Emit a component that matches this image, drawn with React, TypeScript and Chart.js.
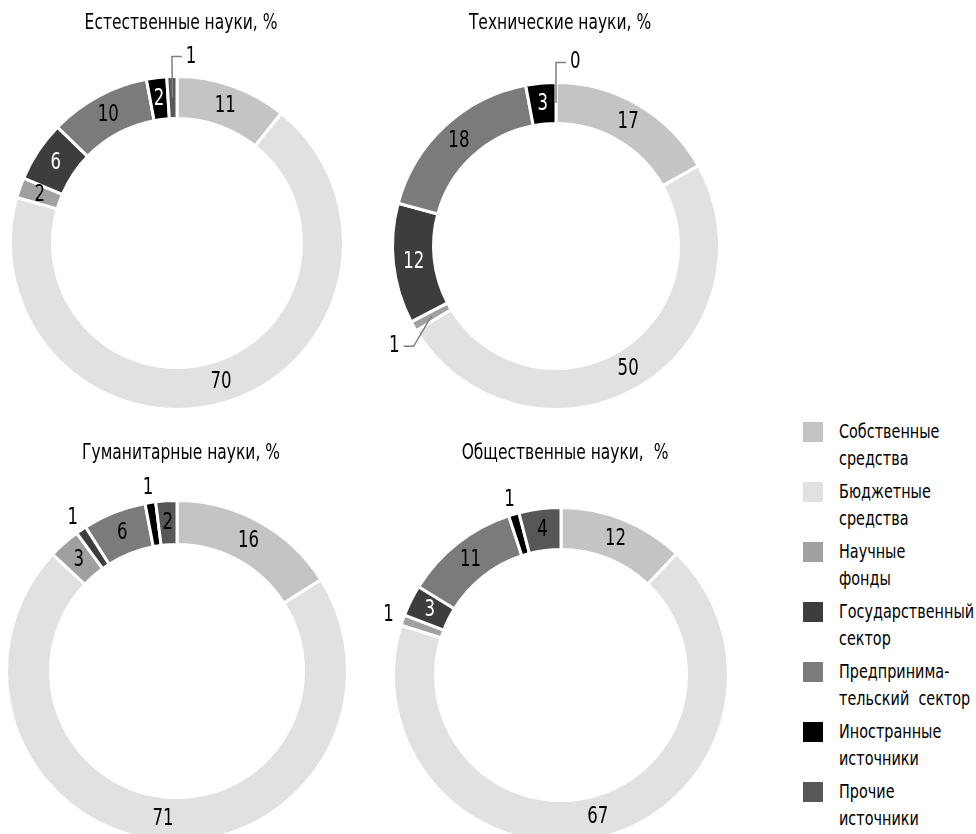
import React, { useEffect, useRef } from "react";
import { Chart, registerables } from "chart.js";

Chart.register(...registerables);

// ---------- data ----------
const categories = [
  "Собственные средства",
  "Бюджетные средства",
  "Научные фонды",
  "Государственный сектор",
  "Предпринимательский сектор",
  "Иностранные источники",
  "Прочие источники",
];
const legendLines = [
  ["Собственные", "средства"],
  ["Бюджетные", "средства"],
  ["Научные", "фонды"],
  ["Государственный", "сектор"],
  ["Предпринима-", "тельский  сектор"],
  ["Иностранные", "источники"],
  ["Прочие", "источники"],
];
const naturalSciences = [11, 70, 2, 6, 10, 2, 1];
const technicalSciences = [17, 50, 1, 12, 18, 3, 0];
const humanities = [16, 71, 3, 1, 6, 1, 2];
const socialSciences = [12, 67, 1, 3, 11, 1, 4];
const titles = [
  "Естественные науки, %",
  "Технические науки, %",
  "Гуманитарные науки, %",
  "Общественные науки,  %",
];

// ---------- styles ----------
const colors = ["#c4c4c4", "#e1e1e1", "#a0a0a0", "#3d3d3d", "#7b7b7b", "#000000", "#575757"];
const labelColors = ["#000", "#000", "#000", "#fff", "#000", "#fff", "#000"];
const FONT = "'DejaVu Sans Condensed', 'Liberation Sans Narrow', sans-serif";
const PAD = 50;
const LABEL_SIZE = 23;
const LABEL_SCALE = 0.8;

const panels = [
  { data: naturalSciences, title: titles[0], cx: 177, cy: 243, r: 165, inner: 126, small: "leader", tx: 181, ty: 22 },
  { data: technicalSciences, title: titles[1], cx: 556, cy: 246, r: 162, inner: 124, small: "leader", tx: 560, ty: 22 },
  { data: humanities, title: titles[2], cx: 177, cy: 671, r: 169, inner: 128, small: "outside", tx: 181, ty: 452 },
  { data: socialSciences, title: titles[3], cx: 561, cy: 675, r: 166, inner: 127, small: "outside", tx: 565, ty: 452 },
];

function drawText(ctx: CanvasRenderingContext2D, text: string, x: number, y: number) {
  ctx.save();
  ctx.translate(x, y);
  ctx.scale(LABEL_SCALE, 1);
  ctx.fillText(text, 0, 0);
  ctx.restore();
}

const labelPlugin = {
  id: "arcLabels",
  afterDatasetsDraw(chart: any) {
    const ctx = chart.ctx;
    const mode = chart.options.plugins.arcLabels.small;
    const meta = chart.getDatasetMeta(0);
    const values = chart.data.datasets[0].data;
    ctx.save();
    ctx.font = `${LABEL_SIZE}px ${FONT}`;
    ctx.textBaseline = "middle";
    meta.data.forEach((arc: any, i: number) => {
      const v = values[i];
      const { x, y, startAngle, endAngle, innerRadius, outerRadius } = arc.getProps(
        ["x", "y", "startAngle", "endAngle", "innerRadius", "outerRadius"],
        true
      );
      const mid = (startAngle + endAngle) / 2;
      const c = Math.cos(mid);
      const s = Math.sin(mid);
      const text = String(v);
      if (v >= 2) {
        const rm = (innerRadius + outerRadius) / 2;
        ctx.fillStyle = labelColors[i];
        ctx.textAlign = "center";
        drawText(ctx, text, x + c * rm, y + s * rm);
      } else if (mode === "leader") {
        const rm = (innerRadius + outerRadius) / 2;
        const sx = x + c * rm;
        const sy = y + s * rm;
        const ox = x + c * outerRadius;
        const oy = y + s * outerRadius;
        const vdir = oy - sy >= 0 ? 1 : -1;
        const ex = ox;
        const ey = sy + vdir * (Math.abs(oy - sy) + 20);
        const hdir = c < -0.1 ? -1 : 1;
        const hx = ex + hdir * 10;
        ctx.strokeStyle = "#808080";
        ctx.lineWidth = 1.5;
        ctx.beginPath();
        ctx.moveTo(sx, sy);
        ctx.lineTo(ex, ey);
        ctx.lineTo(hx, ey);
        ctx.stroke();
        ctx.fillStyle = "#000";
        ctx.textAlign = hdir > 0 ? "left" : "right";
        drawText(ctx, text, hx + hdir * 4, ey);
      } else {
        const ro = outerRadius + 15;
        ctx.fillStyle = "#000";
        ctx.textAlign = "center";
        drawText(ctx, text, x + c * ro, y + s * ro);
      }
    });
    ctx.restore();
  },
};

function Donut({ panel }: { panel: any }) {
  const ref = useRef<HTMLCanvasElement>(null);
  useEffect(() => {
    if (!ref.current) return;
    const bw = 3;
    const R = panel.r + bw / 2;
    const inner = panel.inner - bw / 2;
    const chart = new Chart(ref.current, {
      type: "doughnut",
      data: {
        labels: categories,
        datasets: [
          {
            data: panel.data,
            backgroundColor: colors,
            borderColor: "#ffffff",
            borderWidth: bw,
          },
        ],
      },
      options: {
        animation: false,
        responsive: false,
        events: [],
        radius: R,
        cutout: `${(inner / R) * 100}%`,
        layout: { padding: 0 },
        plugins: {
          legend: { display: false },
          tooltip: { enabled: false },
          arcLabels: { small: panel.small },
        } as any,
      } as any,
      plugins: [labelPlugin],
    });
    return () => chart.destroy();
  }, [panel]);
  const size = 2 * (panel.r + PAD);
  return (
    <canvas
      ref={ref}
      width={size}
      height={size}
      style={{
        position: "absolute",
        left: panel.cx - panel.r - PAD,
        top: panel.cy - panel.r - PAD,
        width: size,
        height: size,
      }}
    />
  );
}

export default function App() {
  return (
    <div
      style={{
        position: "absolute",
        left: 0,
        top: 0,
        width: 976,
        height: 834,
        overflow: "hidden",
        background: "#fff",
        fontFamily: FONT,
        color: "#000",
      }}
    >
      {panels.map((p, i) => (
        <Donut key={i} panel={p} />
      ))}
      {panels.map((p, i) => (
        <div
          key={"t" + i}
          style={{
            position: "absolute",
            left: p.tx - 160,
            top: p.ty - 13,
            width: 320,
            textAlign: "center",
            fontSize: 21,
            lineHeight: "26px",
            whiteSpace: "pre",
            transform: "scaleX(0.82)",
            transformOrigin: "50% 50%",
          }}
        >
          {p.title}
        </div>
      ))}
      {legendLines.map((lines, i) => (
        <React.Fragment key={"l" + i}>
          <div
            style={{
              position: "absolute",
              left: 803,
              top: 422 + i * 60,
              width: 20,
              height: 20,
              background: colors[i],
            }}
          />
          <div
            style={{
              position: "absolute",
              left: 839,
              top: 418 + i * 60,
              fontSize: 20,
              lineHeight: "27px",
              whiteSpace: "pre",
              transform: "scaleX(0.8)",
              transformOrigin: "0 0",
            }}
          >
            {lines[0]}
            <br />
            {lines[1]}
          </div>
        </React.Fragment>
      ))}
    </div>
  );
}
